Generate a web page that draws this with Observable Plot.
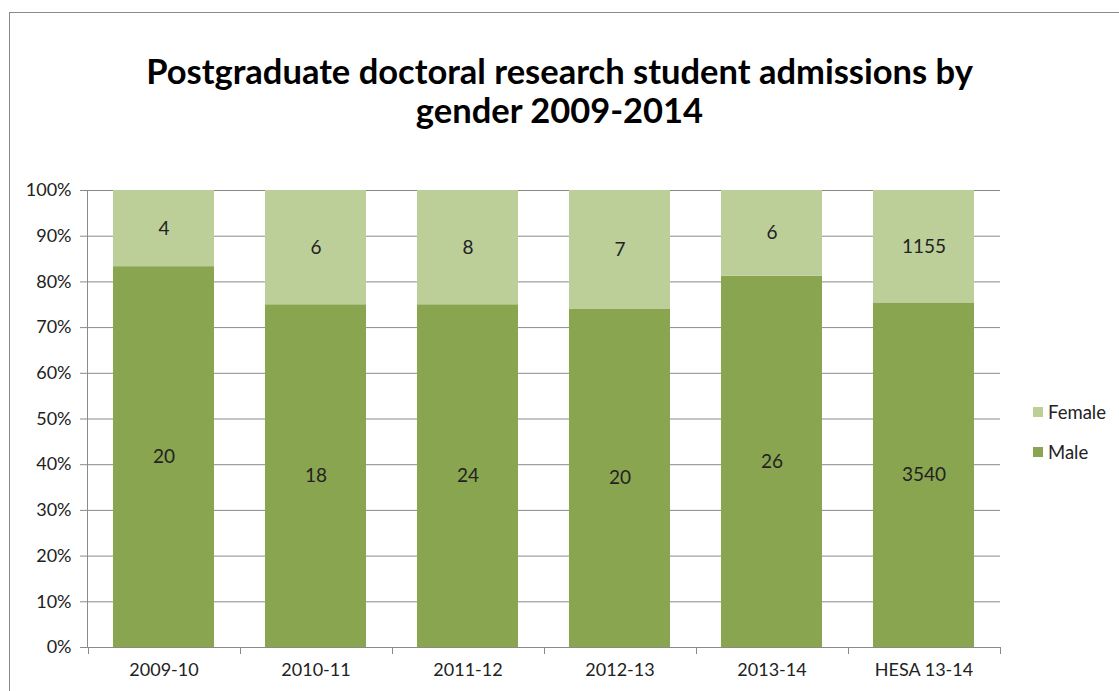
<!DOCTYPE html>
<html>
<head>
<meta charset="utf-8">
<script src="https://cdn.jsdelivr.net/npm/d3@7"></script>
<script src="https://cdn.jsdelivr.net/npm/@observablehq/plot@0.6"></script>
<style>
  html, body { margin: 0; padding: 0; background: #fff; overflow: hidden; }
  #wrap { position: relative; width: 1119px; height: 691px; overflow: hidden; font-family: Lato, "Open Sans", sans-serif; }
  #border { position: absolute; left: 9px; top: 12px; width: 1300px; height: 900px; border-left: 1.5px solid #8a8a8a; border-top: 1.5px solid #8a8a8a; }
  #title { position: absolute; left: 0; top: 51px; width: 1119px; text-align: center; font-weight: bold; font-size: 34.5px; line-height: 39px; color: #000; }
  #chart { position: absolute; left: 0; top: 0; }
  #legend { position: absolute; left: 1033px; top: 400px; font-size: 18.5px; color: #222; }
  .item { position: relative; height: 40px; }
  .sw { position: absolute; left: 0; top: 7px; width: 10px; height: 10px; }
  .lab { position: absolute; left: 15px; top: 0; line-height: 24px; }
</style>
</head>
<body>
<div id="wrap">
  <div id="border"></div>
  <div id="chart"></div>
  <div id="title">Postgraduate doctoral research student admissions by<br>gender 2009-2014</div>
  <div id="legend"></div>
</div>
<script>
const categories = ["2009-10", "2010-11", "2011-12", "2012-13", "2013-14", "HESA 13-14"];
const male = [20, 18, 24, 20, 26, 3540];
const female = [4, 6, 8, 7, 6, 1155];
const seriesNames = ["Male", "Female"];
const seriesColors = ["#8aa54f", "#bccf99"];
const yTicks = [0, 0.1, 0.2, 0.3, 0.4, 0.5, 0.6, 0.7, 0.8, 0.9, 1];
const legendOrder = ["Female", "Male"];

const gridColor = "#8a8a8a";

const rows = [
  ...categories.map((c, i) => ({category: c, gender: "Male", value: male[i]})),
  ...categories.map((c, i) => ({category: c, gender: "Female", value: female[i]}))
];

function axisLines(index, scales, values, dims) {
  const x = scales.x;
  const bw = typeof x.bandwidth === "function" ? x.bandwidth() : x.bandwidth;
  const centers = categories.map(c => x(c) + bw / 2);
  const step = centers[1] - centers[0];
  const bounds = [centers[0] - step / 2, ...centers.map(c => c + step / 2)];
  const y0 = dims.height - dims.marginBottom;
  const g = d3.create("svg:g").attr("stroke", gridColor).attr("stroke-width", 1).attr("shape-rendering", "crispEdges");
  g.append("line").attr("x1", dims.marginLeft + 0.5).attr("x2", dims.marginLeft + 0.5).attr("y1", dims.marginTop).attr("y2", y0 + 0.5);
  g.append("line").attr("x1", dims.marginLeft).attr("x2", dims.width - dims.marginRight).attr("y1", y0 + 0.5).attr("y2", y0 + 0.5);
  bounds.forEach(b => g.append("line").attr("x1", Math.round(b) + 0.5).attr("x2", Math.round(b) + 0.5).attr("y1", y0).attr("y2", y0 + 7));
  return g.node();
}

const chart = Plot.plot({
  width: 1119,
  height: 691,
  marginTop: 190,
  marginBottom: 44,
  marginLeft: 87,
  marginRight: 119,
  style: {fontFamily: "Lato, 'Open Sans', sans-serif", fontSize: "18px", background: "transparent"},
  x: {domain: categories, paddingInner: 0.335, paddingOuter: 0.1675, label: null},
  y: {domain: [0, 1], label: null},
  color: {domain: seriesNames, range: seriesColors},
  marks: [
    Plot.gridY(yTicks, {stroke: gridColor, strokeOpacity: 1}),
    Plot.barY(rows, Plot.stackY({x: "category", y: "value", z: "gender", fill: "gender", offset: "normalize"})),
    Plot.text(rows, Plot.stackY({x: "category", y: "value", z: "gender", offset: "normalize", text: d => String(d.value), fontSize: 19, fill: "#222"})),
    Plot.axisY({ticks: yTicks, tickFormat: d3.format(".0%"), tickSize: 7, tickPadding: 9, fontSize: 18, stroke: gridColor, fill: "#222", label: null}),
    Plot.axisX({tickSize: 0, tickPadding: 16, fontSize: 18, fill: "#222", label: null}),
    axisLines
  ]
});
document.getElementById("chart").appendChild(chart);

const legend = document.getElementById("legend");
legendOrder.forEach(name => {
  const item = document.createElement("div");
  item.className = "item";
  const sw = document.createElement("div");
  sw.className = "sw";
  sw.style.background = seriesColors[seriesNames.indexOf(name)];
  const lab = document.createElement("div");
  lab.className = "lab";
  lab.textContent = name;
  item.appendChild(sw);
  item.appendChild(lab);
  legend.appendChild(item);
});
</script>
</body>
</html>
